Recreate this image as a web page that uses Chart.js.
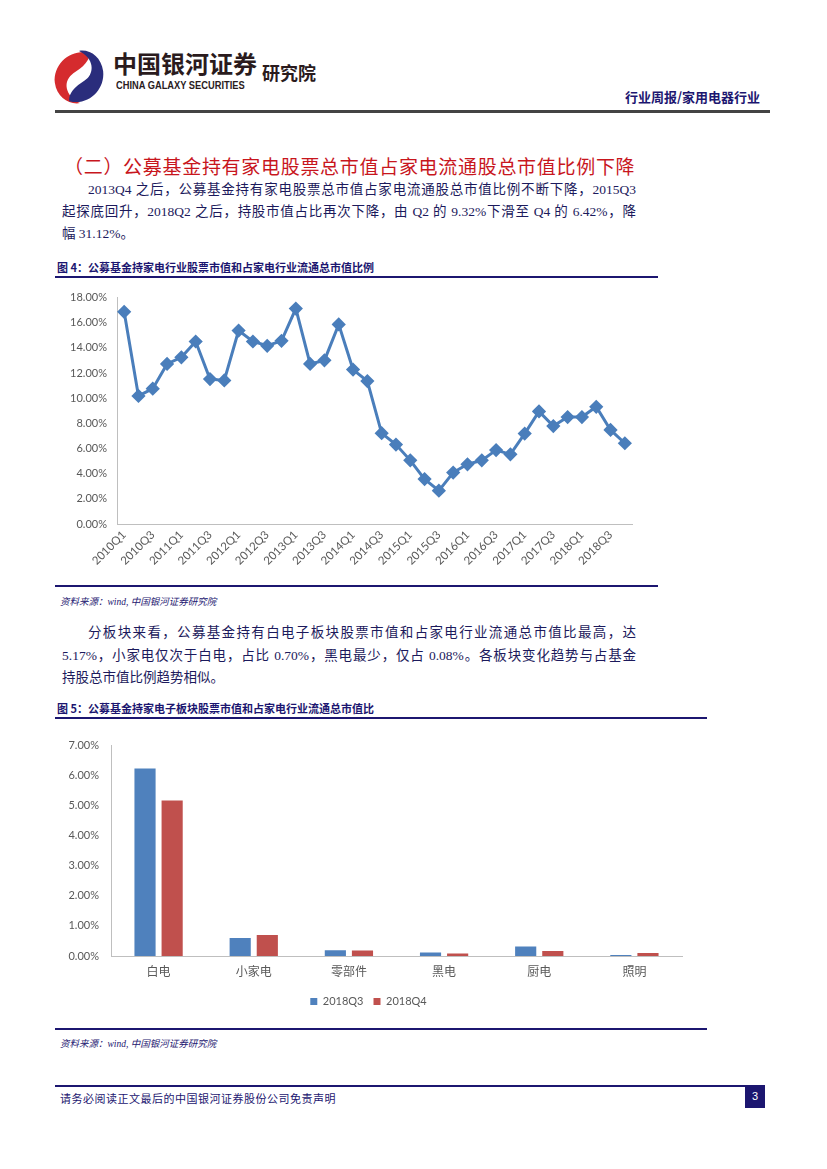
<!DOCTYPE html>
<html>
<head>
<meta charset="utf-8">
<script src="https://cdn.jsdelivr.net/npm/chart.js@4.4.0/dist/chart.umd.min.js"></script>
<style>
  html, body { margin: 0; padding: 0; background: #fff; }
  body { width: 827px; height: 1169px; position: relative; overflow: hidden;
         font-family: "Liberation Serif", "Noto Sans CJK SC", serif; color: #1c1a5c; }
  .abs { position: absolute; white-space: nowrap; }
  .rule { position: absolute; background: #1c1670; }
  .body-line { position: absolute; font-size: 13.5px; line-height: 16px; text-align: justify; text-align-last: justify; color: #1c1a5c; }
  .fig-title { position: absolute; font-family: "Noto Sans CJK SC", sans-serif; font-weight: 700; font-size: 11px; color: #1c1670; }
  .source { position: absolute; font-family: "Liberation Serif", "Noto Sans CJK SC", serif; font-style: italic; font-size: 9.5px; color: #1c1670; }
  .chart-box { position: absolute; }
</style>
</head>
<body>

<!-- header -->
<svg class="abs" style="left:50px; top:48px;" width="58" height="58" viewBox="0 0 60 60">
  <path d="M42 5 C22 0 3 16 5 36 C7 51 20 59 31 57 C18 51 13 38 21 29 C25 25 30 23 34 19 C38 15 41 10 42 5Z" fill="#d52b2e"/>
  <path d="M20 55 C40 60 57 43 55 24 C53 9 41 1 30 3 C43 9 47 22 39 31 C35 35 30 37 26 41 C22 45 19 50 20 55Z" fill="#2a2d7c"/>
</svg>
<div class="abs" style="left:113px; top:47px; font-family:'Noto Sans CJK SC'; font-weight:700; font-size:24px; line-height:32px; color:#2a1b1d;">中国银河证券</div>
<div class="abs" style="left:116px; top:80px; font-family:'Liberation Sans'; font-weight:700; font-size:10px; line-height:12px; color:#2a1b1d; transform:scaleX(0.93); transform-origin:left;">CHINA GALAXY SECURITIES</div>
<div class="abs" style="left:262px; top:60px; font-family:'Noto Sans CJK SC'; font-weight:700; font-size:18px; line-height:24px; color:#2a1b1d;">研究院</div>
<div class="abs" style="left:625px; top:87px; font-family:'Noto Sans CJK SC'; font-weight:700; font-size:13px; color:#1c1670;">行业周报/家用电器行业</div>
<div class="abs" style="left:55px; top:110px; width:715px; height:3px; background:#444;"></div>

<!-- section heading and text -->
<div class="abs" style="left:64px; top:152px; font-family:'Noto Sans CJK SC'; font-weight:400; font-size:19px; color:#c8161d; letter-spacing:0.7px;">（二）公募基金持有家电股票总市值占家电流通股总市值比例下降</div>
<div class="body-line" style="left:88px; top:182px; width:548px;">2013Q4 之后，公募基金持有家电股票总市值占家电流通股总市值比例不断下降，2015Q3</div>
<div class="body-line" style="left:62px; top:204px; width:574px;">起探底回升，2018Q2 之后，持股市值占比再次下降，由 Q2 的 9.32%下滑至 Q4 的 6.42%，降</div>
<div class="abs" style="left:62px; top:226px; font-size:13.5px; line-height:16px;">幅 31.12%。</div>

<!-- figure 4 -->
<div class="fig-title" style="left:57px; top:259px;">图 4：公募基金持家电行业股票市值和占家电行业流通总市值比例</div>
<div class="rule" style="left:55px; top:276px; width:603px; height:2px;"></div>
<div class="chart-box" style="left:55px; top:281px; width:603px; height:299px;"><canvas id="lineChart"></canvas></div>
<div class="rule" style="left:55px; top:585px; width:603px; height:2px;"></div>
<div class="source" style="left:60px; top:594px;">资料来源：wind, 中国银河证券研究院</div>

<div class="body-line" style="left:88px; top:625px; width:548px;">分板块来看，公募基金持有白电子板块股票市值和占家电行业流通总市值比最高，达</div>
<div class="body-line" style="left:62px; top:648px; width:574px;">5.17%，小家电仅次于白电，占比 0.70%，黑电最少，仅占 0.08%。各板块变化趋势与占基金</div>
<div class="abs" style="left:62px; top:670px; font-size:13.5px; line-height:16px;">持股总市值比例趋势相似。</div>

<!-- figure 5 -->
<div class="fig-title" style="left:57px; top:700px;">图 5：公募基金持家电子板块股票市值和占家电行业流通总市值比</div>
<div class="rule" style="left:55px; top:717px; width:652px; height:2px;"></div>
<div class="chart-box" style="left:55px; top:727px; width:652px; height:290px;"><canvas id="barChart"></canvas></div>
<div class="rule" style="left:55px; top:1028px; width:652px; height:2px;"></div>
<div class="source" style="left:60px; top:1036px;">资料来源：wind, 中国银河证券研究院</div>

<!-- footer -->
<div class="rule" style="left:55px; top:1085px; width:690px; height:2px;"></div>
<div class="abs" style="left:60px; top:1090px; font-size:11px; color:#1c1670; letter-spacing:0.5px;">请务必阅读正文最后的中国银河证券股份公司免责声明</div>
<div class="abs" style="left:745px; top:1085px; width:20px; height:23px; background:#1c1670; color:#fff; font-family:'Liberation Sans'; font-size:11px; line-height:23px; text-align:center;">3</div>

<script>
// figure 4: share of household-appliance float market cap held by public funds
const quarters = [
    '2010Q1','2010Q2','2010Q3','2010Q4','2011Q1','2011Q2','2011Q3','2011Q4',
    '2012Q1','2012Q2','2012Q3','2012Q4','2013Q1','2013Q2','2013Q3','2013Q4',
    '2014Q1','2014Q2','2014Q3','2014Q4','2015Q1','2015Q2','2015Q3','2015Q4',
    '2016Q1','2016Q2','2016Q3','2016Q4','2017Q1','2017Q2','2017Q3','2017Q4',
    '2018Q1','2018Q2','2018Q3','2018Q4'
];
const fundShare = [
    16.87, 10.18, 10.76, 12.73, 13.25, 14.51, 11.52, 11.41,
    15.38, 14.51, 14.17, 14.56, 17.13, 12.73, 13.01, 15.87,
    12.28, 11.36, 7.22, 6.32, 5.06, 3.57, 2.65, 4.09,
    4.75, 5.06, 5.88, 5.54, 7.19, 8.95, 7.79, 8.50,
    8.50, 9.32, 7.48, 6.42
];

// figure 5: by sub-sector
const sectors = ['白电', '小家电', '零部件', '黑电', '厨电', '照明'];
const share2018Q3 = [6.24, 0.60, 0.19, 0.12, 0.32, 0.03];
const share2018Q4 = [5.17, 0.70, 0.18, 0.08, 0.17, 0.10];

const tickColor = '#595959';
const axisColor = '#bfbfbf';
const tickFont  = { family: 'Lato, "Open Sans", sans-serif', size: 11 };

new Chart(document.getElementById('lineChart'), {
    type: 'line',
    data: {
        labels: quarters,
        datasets: [{
            data: fundShare,
            borderColor: '#4a7ebb',
            backgroundColor: '#4a7ebb',
            borderWidth: 3,
            pointStyle: 'rectRot',
            pointRadius: 5,
            pointHoverRadius: 5,
            tension: 0
        }]
    },
    options: {
        responsive: true,
        maintainAspectRatio: false,
        animation: false,
        layout: { padding: { top: 7, right: 26, left: 0, bottom: 0 } },
        plugins: { legend: { display: false }, tooltip: { enabled: false } },
        scales: {
            x: {
                offset: true,
                grid: { display: false, drawTicks: false },
                border: { color: axisColor, width: 1 },
                ticks: {
                    autoSkip: false, maxRotation: 45, minRotation: 45,
                    color: tickColor, font: { family: tickFont.family, size: 11.5 }, padding: 4,
                    callback: (v, i) => i % 2 === 0 ? quarters[i] : ''
                },
                afterFit: s => { s.height = 56; }
            },
            y: {
                min: 0, max: 18,
                grid: { display: false, drawTicks: false },
                border: { color: axisColor, width: 1 },
                ticks: {
                    stepSize: 2, color: tickColor, font: tickFont, padding: 10,
                    callback: v => v.toFixed(2) + '%'
                },
                afterFit: s => { s.width = 62; }
            }
        }
    }
});

new Chart(document.getElementById('barChart'), {
    type: 'bar',
    data: {
        labels: sectors,
        datasets: [
            { label: '2018Q3', data: share2018Q3, backgroundColor: '#4f81bd',
              categoryPercentage: 0.57, barPercentage: 0.78 },
            { label: '2018Q4', data: share2018Q4, backgroundColor: '#c0504d',
              categoryPercentage: 0.57, barPercentage: 0.78 }
        ]
    },
    options: {
        responsive: true,
        maintainAspectRatio: false,
        animation: false,
        layout: { padding: { top: 10, right: 25, left: 0, bottom: 0 } },
        plugins: {
            tooltip: { enabled: false },
            legend: {
                position: 'bottom',
                labels: { boxWidth: 7, boxHeight: 7, color: tickColor, font: tickFont, padding: 10 }
            }
        },
        scales: {
            x: {
                grid: { display: false, drawTicks: false },
                border: { color: axisColor, width: 1 },
                ticks: { color: tickColor, padding: 8,
                         font: { family: '"Noto Sans CJK SC", sans-serif', size: 12 } },
                afterFit: s => { s.height = 30; }
            },
            y: {
                min: 0, max: 7,
                grid: { display: false, drawTicks: false },
                border: { color: axisColor, width: 1 },
                ticks: {
                    stepSize: 1, color: tickColor, font: tickFont, padding: 12,
                    callback: v => v.toFixed(2) + '%'
                },
                afterFit: s => { s.width = 56; }
            }
        }
    }
});
</script>
</body>
</html>
